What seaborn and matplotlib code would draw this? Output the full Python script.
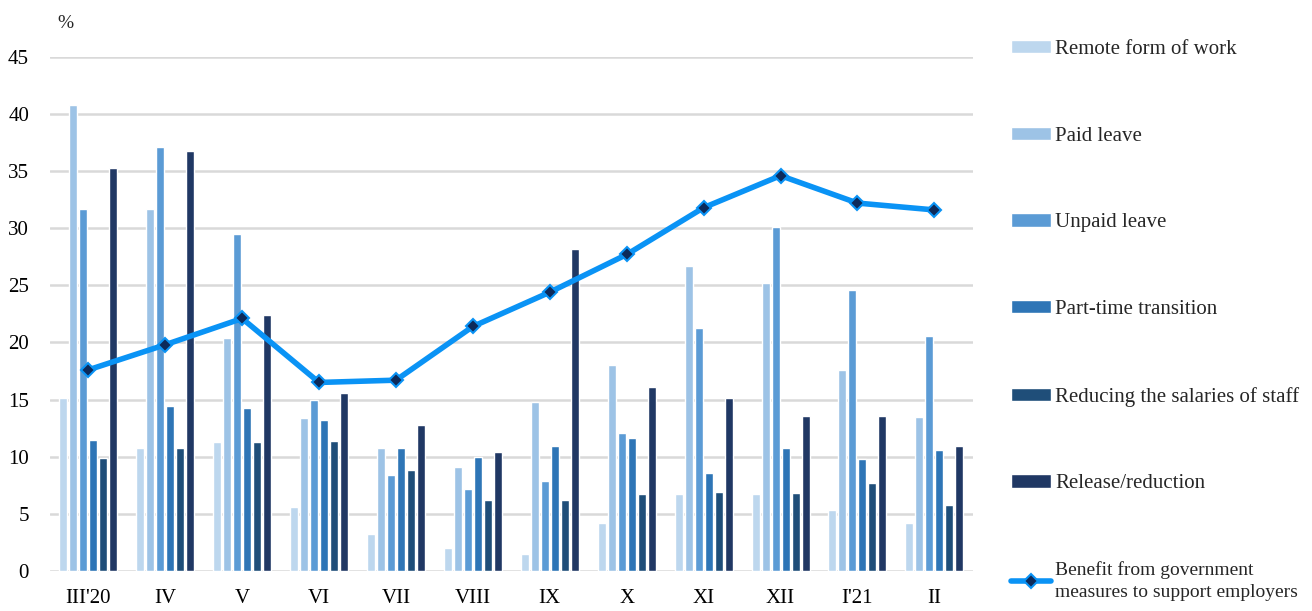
import numpy as np
import pandas as pd
import matplotlib
matplotlib.use("Agg")
import matplotlib.pyplot as plt
import seaborn as sns

# ==========================================================
# DATA
# ==========================================================

months = ["III'20", "IV", "V", "VI", "VII", "VIII", "IX", "X", "XI", "XII", "I'21", "II"]

measures = ["Remote form of work", "Paid leave", "Unpaid leave",
            "Part-time transition", "Reducing the salaries of staff", "Release/reduction"]

remote_work = [15.1, 10.8, 11.3, 5.6, 3.2, 2.0, 1.5, 4.2, 6.7, 6.7, 5.3, 4.2]
paid_leave = [40.8, 31.7, 20.4, 13.4, 10.8, 9.1, 14.8, 18.0, 26.7, 25.2, 17.6, 13.5]
unpaid_leave = [31.7, 37.1, 29.5, 15.0, 8.4, 7.2, 7.9, 12.1, 21.3, 30.1, 24.6, 20.6]
part_time = [11.5, 14.4, 14.3, 13.2, 10.8, 10.0, 10.9, 11.6, 8.6, 10.8, 9.8, 10.6]
salaries_cut = [9.9, 10.8, 11.3, 11.4, 8.8, 6.2, 6.2, 6.7, 6.9, 6.8, 7.7, 5.8]
release = [35.3, 36.8, 22.4, 15.6, 12.8, 10.4, 28.2, 16.1, 15.1, 13.6, 13.6, 10.9]

benefit = [17.6, 19.8, 22.1, 16.5, 16.7, 21.4, 24.4, 27.7, 31.8, 34.6, 32.2, 31.6]
benefit_label = "Benefit from government\nmeasures to support employers"

bar_colors = ["#BDD7EE", "#9DC3E6", "#5B9BD5", "#2E75B6", "#1F4E79", "#203864"]

# ==========================================================
# BUILD LONG TABLE
# ==========================================================

series = [remote_work, paid_leave, unpaid_leave, part_time, salaries_cut, release]
rows = []
for name, vals in zip(measures, series):
    for m, v in zip(months, vals):
        rows.append({"month": m, "measure": name, "value": v})
df = pd.DataFrame(rows)

# ==========================================================
# PLOT
# ==========================================================

sns.set_style("white")
plt.rcParams["font.family"] = ["Liberation Serif", "DejaVu Serif"]

fig = plt.figure(figsize=(13.12, 6.11), dpi=100)
ax = fig.add_axes([0.038, 0.0655, 0.7035, 0.8415])

sns.barplot(data=df, x="month", y="value", hue="measure", order=months,
            hue_order=measures, palette=bar_colors, width=0.78, gap=0.2,
            saturation=1, ax=ax, zorder=2)

sns.pointplot(x=months, y=benefit, color="#0A93F5", markers="D",
              linestyles="-", markersize=7, linewidth=4,
              markeredgecolor="#0A93F5", markerfacecolor="#0D2A5A",
              markeredgewidth=1.5, label=benefit_label, ax=ax, zorder=4)

ax.set_ylim(0, 45)
ax.set_xlim(-0.5, len(months) - 0.5)
ax.set_yticks(range(0, 46, 5))
ax.yaxis.grid(True, color="#D9D9D9", linewidth=1.8, zorder=0)
ax.set_axisbelow(True)
for s in ax.spines.values():
    s.set_visible(False)
ax.tick_params(axis="both", length=0, labelsize=15, colors="black")
ax.tick_params(axis="y", pad=15)
ax.tick_params(axis="x", pad=13)
ax.set_xlabel("")
ax.set_ylabel("")

fig.text(0.05, 0.962, "%", fontsize=14, ha="center", va="center")

handles, labels = ax.get_legend_handles_labels()
ax.get_legend().remove()
leg = fig.legend(handles, labels, loc="upper left", bbox_to_anchor=(1011 / 1312, 1 - 40 / 611),
                 frameon=False, fontsize=15, labelspacing=3.25, handlelength=1.92,
                 handleheight=0.6, handletextpad=0.2, borderpad=0, borderaxespad=0)
leg.get_texts()[-1].set_fontsize(14)
leg.get_texts()[-1].set_linespacing(1.4)

plt.savefig("out.png", dpi=100)
